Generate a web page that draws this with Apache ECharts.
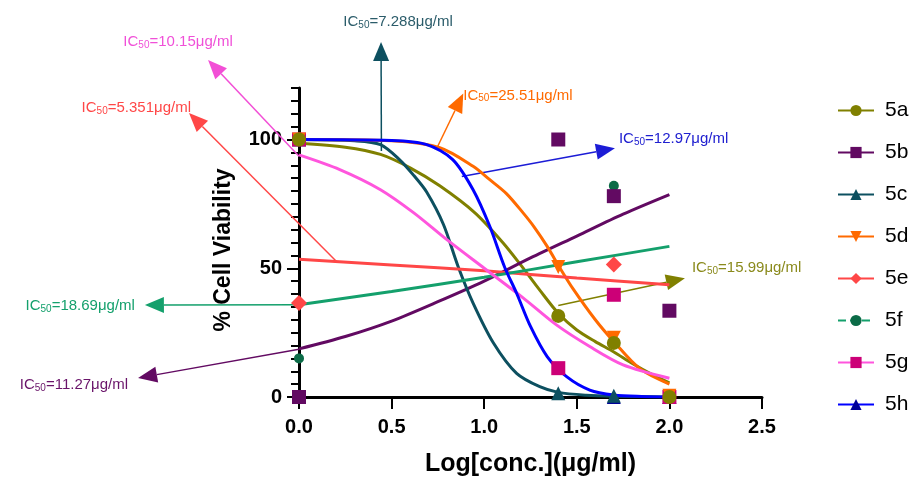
<!DOCTYPE html>
<html>
<head>
<meta charset="utf-8">
<script src="https://cdn.jsdelivr.net/npm/echarts@6/dist/echarts.min.js"></script>
<style>
  html, body { margin: 0; padding: 0; background: #fff; }
  #chart { width: 919px; height: 486px; }
</style>
</head>
<body>
<div id="chart"></div>
<script>
// fitted curves as [log conc, % viability]
var curve5a = [[0,98.5],[0.25,97],[0.44,94.2],[0.6,89],[0.76,82],[0.95,71.5],[1.1,60],[1.2,51],[1.3,41.5],[1.4,32.5],[1.5,26],[1.6,21.5],[1.7,17.5],[1.8,13],[1.9,9],[2.0,5.5]]
var curve5b = [[0,18.7],[0.25,23.5],[0.5,29.5],[0.75,37],[1.0,45],[1.25,54],[1.5,62.5],[1.75,71],[2.0,78.6]]
var curve5c = [[0,100],[0.3,99.5],[0.44,98],[0.545,92],[0.62,86],[0.69,79.5],[0.78,67],[0.86,50.5],[0.94,36.5],[1.05,21],[1.175,9.2],[1.3,4],[1.4,1.8],[1.55,0.7],[1.7,0.3],[2.0,0]]
var curve5d = [[0,100],[0.5,99.5],[0.76,96.8],[0.94,89.6],[1.03,84.4],[1.12,79],[1.21,71.5],[1.27,66],[1.34,58.5],[1.41,50],[1.48,42],[1.6,30],[1.7,21.5],[1.84,11],[2.0,5]]
var curve5e = [[0,53.5],[0.5,51.3],[1.0,49],[1.5,46.2],[2.0,43.6]]
var curve5f = [[0,35.8],[0.5,41],[1.0,46.5],[1.5,52.5],[2.0,58.5]]
var curve5g = [[0,94],[0.22,88.3],[0.44,80.5],[0.62,71.5],[0.8,61],[1.0,50],[1.21,38.5],[1.39,28],[1.57,19.6],[1.75,12.5],[2.0,7.3]]
var curve5h = [[0,100],[0.5,99.6],[0.69,98],[0.83,92.2],[0.94,80.5],[1.03,66.3],[1.11,50.5],[1.175,40.3],[1.25,27.4],[1.34,15.7],[1.445,7.9],[1.57,2.7],[1.7,0.8],[1.85,0.2],[2.0,0]]

// measured points
var pts5a = [[0,100],[1.4,31.5],[1.7,21],[2.0,0]]
var pts5b = [[0,0],[1.4,100],[1.7,78],[2.0,33.5]]
var pts5c = [[0,100],[1.4,1.5],[1.7,0.5],[2.0,0]]
var pts5d = [[0,100],[1.4,50.5],[1.7,23],[2.0,0.5]]
var pts5e = [[0,36.5],[1.7,51.5]]
var pts5f = [[0,15],[1.7,82]]
var pts5g = [[0,100],[1.4,11.2],[1.7,39.7],[2.0,0]]
var pts5h = [[1.7,0],[2.0,0]]

// IC50 annotations: arrow start, arrow tip (data units) and value
var arrowFrom = [[0.445,95.5],[0,93.5],[0.204,52.5],[0.744,96.6],[0.879,85.6],[1.40,35.5],[0,35.8],[0,18.5]]
var arrowTo = [[0.443,137.9],[-0.491,130.9],[-0.594,110.3],[0.887,117.9],[1.706,96.6],[2.084,46.1],[-0.832,35.7],[-0.869,7.4]]
var ic50Text = ['7.288','10.15','5.351','25.51','12.97','15.99','18.69','11.27']

var xTicks = [0, 0.5, 1, 1.5, 2, 2.5]
var yTicks = [0, 50, 100]

var names = ['5a','5b','5c','5d','5e','5f','5g','5h']
var lineColors = ['#808000','#620a62','#0d5060','#ff6a00','#ff4747','#14a06c','#ff55dd','#0000ff']
var markColors = ['#808000','#620a62','#0d5060','#ff6a00','#ff4747','#0b6b47','#cc0077','#000099']
var symbols = ['circle','rect','triangle','triangle','diamond','circle','rect','triangle']
var rotates = [0,0,0,180,0,0,0,0]
var curves = [curve5a,curve5b,curve5c,curve5d,curve5e,curve5f,curve5g,curve5h]
var points = [pts5a,pts5b,pts5c,pts5d,pts5e,pts5f,pts5g,pts5h]

// arrow colours and label placement (pixel offset from tip, text align)
var arrowColors = ['#0d5060','#f24fd6','#ff4747','#ff6a00','#1c1cd6','#808000','#14a06c','#620a62']
var labelColors = ['#2b5c6a','#f050d8','#ff4747','#ff6a00','#2020d0','#8a8a1c','#14a06c','#6a146a']
var labelPos = [[17,-20,'center'],[-30,-18,'center'],[2,-5,'right'],[0,2,'left'],[4,-9,'left'],[7,-10,'left'],[-10,1,'right'],[-10,7,'right']]

var font = '"Liberation Sans", Arial, sans-serif'
var chart = echarts.init(document.getElementById('chart'))

var series = []
for (var i = 0; i < names.length; i++) {
  series.push({
    name: names[i],
    type: 'line',
    data: curves[i],
    smooth: 0.3,
    showSymbol: false,
    symbol: symbols[i],
    symbolRotate: rotates[i],
    symbolSize: 13,
    itemStyle: { color: markColors[i] },
    lineStyle: { color: lineColors[i], width: 3 },
    z: 3
  })
}
var scatterOrder = [7, 2, 6, 3, 5, 4, 1, 0]
scatterOrder.forEach(function (i) {
  series.push({
    name: names[i],
    type: 'scatter',
    data: points[i],
    symbol: symbols[i],
    symbolRotate: rotates[i],
    symbolSize: i == 5 ? 10 : (i == 4 ? 16 : 14),
    itemStyle: { color: markColors[i], opacity: 1 },
    z: 4
  })
})

var arrowData = arrowFrom.map(function (a, i) {
  return [a[0], a[1], arrowTo[i][0], arrowTo[i][1]]
})
series.push({
  type: 'custom',
  name: 'ic50',
  clip: false,
  silent: true,
  z: 2,
  encode: { x: [0, 2], y: [1, 3] },
  data: arrowData,
  renderItem: function (params, api) {
    var i = params.dataIndex
    var p1 = api.coord([api.value(0), api.value(1)])
    var p2 = api.coord([api.value(2), api.value(3)])
    var ang = Math.atan2(p2[1] - p1[1], p2[0] - p1[0])
    var L = 19, W = 8
    var cs = Math.cos(ang), sn = Math.sin(ang)
    var bx = p2[0] - L * cs, by = p2[1] - L * sn
    var c = arrowColors[i]
    var lp = labelPos[i]
    return {
      type: 'group',
      children: [
        { type: 'line', shape: { x1: p1[0], y1: p1[1], x2: bx, y2: by }, style: { stroke: c, lineWidth: 1.5 } },
        { type: 'polygon', shape: { points: [[p2[0], p2[1]], [bx - W * sn, by + W * cs], [bx + W * sn, by - W * cs]] }, style: { fill: c } },
        {
          type: 'text',
          x: p2[0] + lp[0],
          y: p2[1] + lp[1],
          style: {
            text: '{a|IC}{s|50}{a|=' + ic50Text[i] + 'μg/ml}',
            align: lp[2],
            verticalAlign: 'middle',
            rich: {
              a: { fontSize: 15, fontFamily: font, fill: labelColors[i], lineHeight: 16 },
              s: { fontSize: 10, fontFamily: font, fill: labelColors[i], lineHeight: 4, verticalAlign: 'bottom' }
            }
          }
        }
      ]
    }
  }
})

var option = {
  animation: false,
  backgroundColor: '#fff',
  grid: { left: 299, top: 88, right: 157, bottom: 89 },
  legend: {
    orient: 'vertical',
    left: 832,
    top: 95,
    itemWidth: 36,
    itemHeight: 14,
    itemGap: 21,
    data: names.map(function (n) {
      return n == '5f' ? { name: n, lineStyle: { type: 'dashed' } } : { name: n }
    }),
    textStyle: { fontSize: 21, color: '#000', fontFamily: font, padding: [0, 0, 0, 6] }
  },
  graphic: [{
    type: 'text',
    x: 224,
    y: 250,
    rotation: Math.PI / 2,
    style: {
      text: '% Cell Viability',
      align: 'center',
      verticalAlign: 'middle',
      font: 'bold 23px "Liberation Sans", Arial, sans-serif',
      fill: '#000'
    }
  }],
  xAxis: {
    type: 'value',
    min: 0,
    max: 2.5,
    interval: 0.5,
    name: 'Log[conc.](μg/ml)',
    nameLocation: 'middle',
    nameGap: 55,
    nameTextStyle: { fontSize: 25, fontWeight: 'bold', color: '#000', fontFamily: font },
    axisLine: { lineStyle: { color: '#000', width: 3 } },
    axisTick: { customValues: xTicks, length: 12, lineStyle: { color: '#000', width: 2 } },
    axisLabel: {
      customValues: xTicks,
      margin: 20,
      fontSize: 20,
      fontWeight: 'bold',
      color: '#000',
      fontFamily: font,
      formatter: function (v) { return v.toFixed(1) }
    },
    splitLine: { show: false }
  },
  yAxis: [{
    type: 'value',
    min: 0,
    max: 120,
    interval: 50,
    axisLine: { show: true, lineStyle: { color: '#000', width: 3 } },
    axisTick: { customValues: yTicks, length: 12, lineStyle: { color: '#000', width: 2 } },
    axisLabel: { customValues: yTicks, margin: 17, fontSize: 20, fontWeight: 'bold', color: '#000', fontFamily: font },
    splitLine: { show: false }
  }, {
    type: 'value',
    min: 0,
    max: 120,
    interval: 5,
    position: 'left',
    axisLine: { show: false },
    axisTick: { show: true, length: 8, lineStyle: { color: '#000', width: 2 } },
    axisLabel: { show: false },
    splitLine: { show: false }
  }],
  series: series
}
chart.setOption(option)
</script>
</body>
</html>
